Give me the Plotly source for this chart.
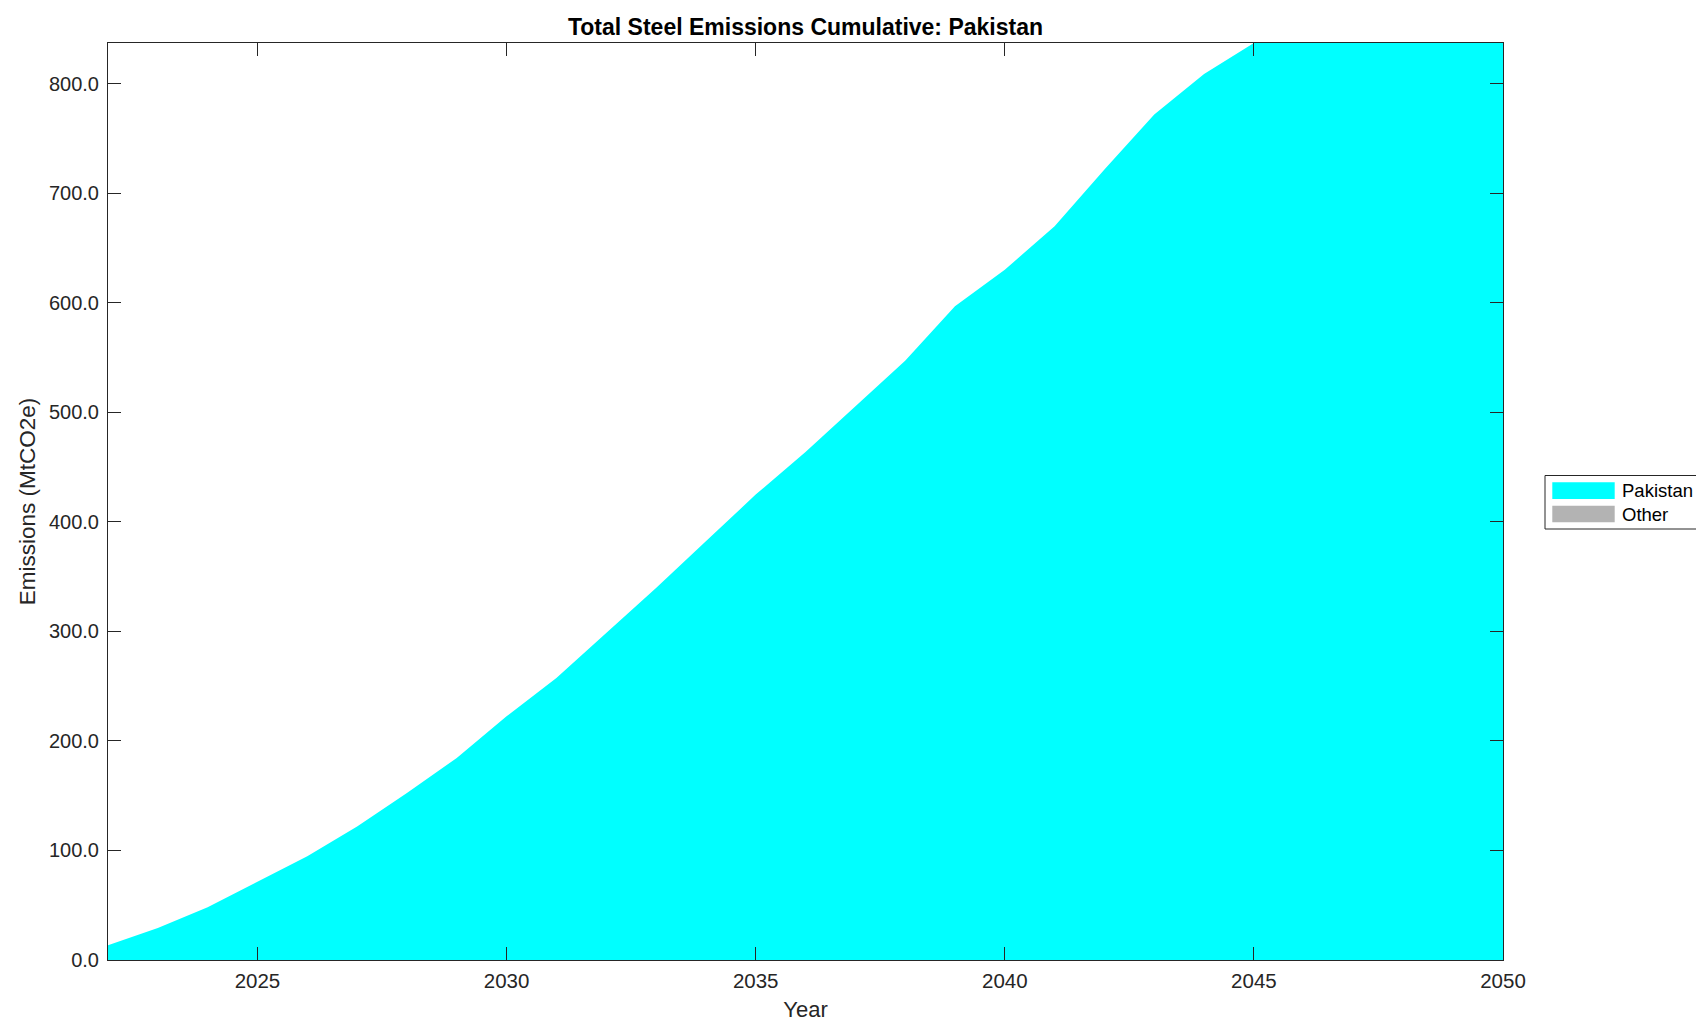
import plotly.graph_objects as go

# ---- data ----
years = list(range(2022, 2051))
pakistan = [13.4, 29.2, 48.1, 71.2, 94.7, 122.0, 152.5, 184.5, 222.5, 257.5,
            298.6, 339.7, 382.3, 425.0, 464.0, 505.6, 547.3, 597.0, 630.4, 670.0,
            721.8, 772.0, 809.0, 837.4, 837.4, 837.4, 837.4, 837.4, 837.4]
other = [0.0] * len(years)
series_names = ["Pakistan", "Other"]
series_colors = ["#00FFFF", "#B3B3B3"]
x_ticks = [2025, 2030, 2035, 2040, 2045, 2050]
y_ticks = [0, 100, 200, 300, 400, 500, 600, 700, 800]

W, H = 1704, 1021
L, R, T, B = 100, 1495, 35, 952  # plot area in pixels
FONT = "Liberation Sans, Arial, Helvetica, sans-serif"
AX = "#262626"

fig = go.Figure()
for name, vals, col in zip(series_names, [pakistan, other], series_colors):
    fig.add_trace(go.Scatter(
        x=years, y=vals, name=name, stackgroup="one", mode="lines",
        line=dict(width=0, color=col), fillcolor=col, showlegend=False,
        hoverinfo="x+y+name"))

def px(xp):
    return (xp - L) / (R - L)

def py(yp):
    return (B - yp) / (B - T)

shapes = []
annotations = []
# custom legend box
shapes.append(dict(type="rect", xref="paper", yref="paper",
                   x0=px(1537), x1=px(1693), y0=py(521), y1=py(467.5),
                   line=dict(color=AX, width=1), fillcolor="white"))
sw_rows = [(474.3, 491.0), (497.7, 514.3)]
for (y0, y1), name, col in zip(sw_rows, series_names, series_colors):
    shapes.append(dict(type="rect", xref="paper", yref="paper",
                       x0=px(1544.3), x1=px(1606.7), y0=py(y1), y1=py(y0),
                       line=dict(width=0), fillcolor=col))
    annotations.append(dict(text=name, xref="paper", yref="paper",
                            x=px(1612), y=py((y0 + y1) / 2), xanchor="left",
                            yanchor="middle", showarrow=False,
                            font=dict(family=FONT, size=18.5, color="black")))

fig.update_layout(
    width=W, height=H,
    margin=dict(l=L, r=W - R, t=T, b=H - B, autoexpand=False),
    paper_bgcolor="white", plot_bgcolor="white",
    font=dict(family=FONT, size=20, color=AX),
    title=dict(text="<b>Total Steel Emissions Cumulative: Pakistan</b>",
               x=0.5, xref="paper", y=1 - 19 / H, yref="container",
               yanchor="middle", xanchor="center",
               font=dict(family=FONT, size=23, color="black")),
    xaxis=dict(range=[2022, 2050], tickvals=x_ticks, ticks="inside", ticklen=13,
               tickwidth=1, tickcolor=AX, showline=True, linecolor=AX, linewidth=1,
               mirror="ticks", showgrid=False, zeroline=False,
               ticklabelstandoff=2,
               tickfont=dict(size=20.5, color=AX),
               title=dict(text="Year", font=dict(size=22, color=AX), standoff=11)),
    yaxis=dict(range=[0, 837.4], tickvals=y_ticks, tickformat=".1f",
               ticks="inside", ticklen=13, tickwidth=1, tickcolor=AX,
               showline=True, linecolor=AX, linewidth=1, mirror="ticks",
               showgrid=False, zeroline=False,
               ticklabelstandoff=4,
               tickfont=dict(size=20, color=AX),
               title=dict(text="Emissions (MtCO2e)", font=dict(size=22.5, color=AX),
                          standoff=7)),
    shapes=shapes, annotations=annotations,
)

fig.write_html("out.html")
